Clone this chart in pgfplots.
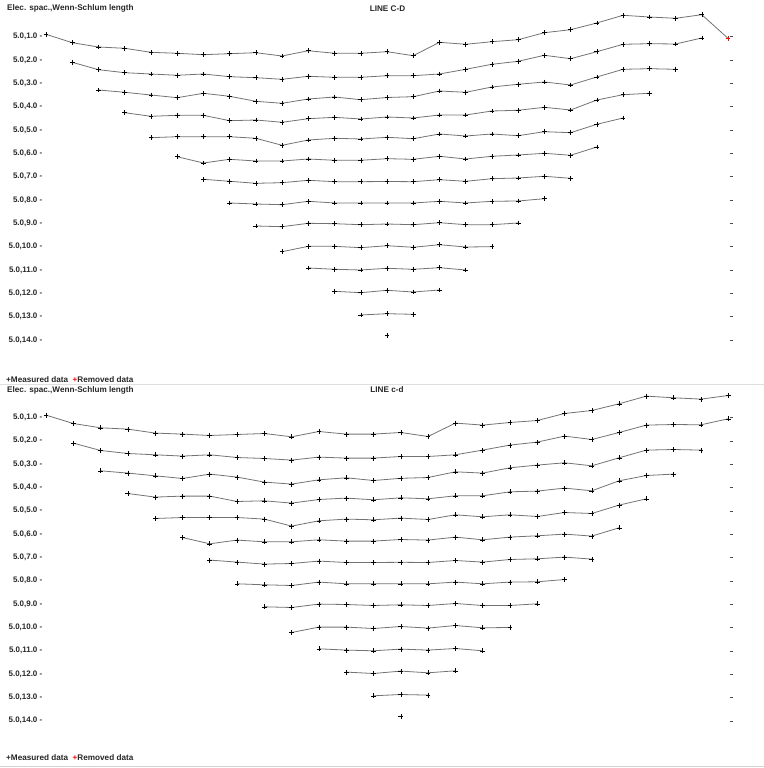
\documentclass[border=0pt]{standalone}
\usepackage{fontspec}
\setmainfont{Liberation Sans}
\usepackage{pgfplots}
\pgfplotsset{compat=1.18}

\pgfplotsset{
  row/.style={black!55, line width=0.8bp, mark=+, mark size=2.4bp,
    mark options={black, line width=0.5bp, solid}},
  pseudo/.style={
    scale only axis, width=687bp, height=330bp,
    y dir=reverse, ymin=20, ymax=350,
    axis line style={draw=none},
    xtick=\empty,
    ytick={36.7,60.03,83.37,106.7,130.03,153.37,176.7,200.03,223.37,246.7,270.03,293.37,316.7,340.03},
    yticklabels={{5.0,1.0 -},{5.0,2.0 -},{5.0,3.0 -},{5.0,4.0 -},{5.0,5.0 -},{5.0,6.0 -},{5.0,7.0 -},{5.0,8.0 -},{5.0,9.0 -},{5.0,10.0 -},{5.0,11.0 -},{5.0,12.0 -},{5.0,13.0 -},{5.0,14.0 -}},
    ytick pos=right, yticklabel pos=left,
    tick align=center, major tick length=3bp,
    ytick style={black!70, line width=0.6bp},
    yticklabel style={font=\fontsize{8}{9}\selectfont\bfseries, text=black!85, inner sep=0pt, anchor=east},
    clip=false,
  }
}

% rows 2..14 (x = electrode index, y = pixel position of the profile)
\newcommand{\rows}{%
\addplot[row] coordinates {(1,62.3)(2,69.7)(3,72.7)(4,74)(5,75.3)(6,74)(7,76.7)(8,77.7)(9,79.3)(10,76.3)(11,77.3)(12,77.3)(13,75.7)(14,75.7)(15,74)(16,69.3)(17,64.3)(18,61.3)(19,55.3)(20,58.7)(21,51.7)(22,44.3)(23,43.7)(24,44)(25,38)};
\addplot[row] coordinates {(2,90)(3,92.3)(4,95)(5,97.7)(6,93.3)(7,96.3)(8,101.3)(9,103.3)(10,99)(11,97)(12,99.7)(13,97.5)(14,96.7)(15,91)(16,92.3)(17,87)(18,84.3)(19,82)(20,85)(21,77)(22,69.3)(23,68.7)(24,69.3)};
\addplot[row] coordinates {(3,112.7)(4,116.3)(5,115.3)(6,115.3)(7,120.7)(8,120)(9,122.3)(10,118.7)(11,117.3)(12,119)(13,117)(14,118)(15,115)(16,115)(17,111)(18,110.3)(19,107.3)(20,110)(21,100)(22,94.7)(23,93.3)};
\addplot[row] coordinates {(4,137.7)(5,136.7)(6,136.7)(7,136.7)(8,138.3)(9,145.3)(10,140)(11,138.3)(12,139)(13,137.3)(14,138.7)(15,134)(16,136)(17,134)(18,135.7)(19,131.7)(20,132.7)(21,124.3)(22,118)};
\addplot[row] coordinates {(5,156.7)(6,163)(7,159.3)(8,161)(9,161)(10,159)(11,160.3)(12,160.3)(13,158.7)(14,159.3)(15,156.3)(16,159)(17,156.3)(18,155)(19,153.3)(20,155.3)(21,147)};
\addplot[row] coordinates {(6,179.3)(7,181.3)(8,183.3)(9,182.7)(10,180.3)(11,181.7)(12,181.7)(13,181.5)(14,181.7)(15,179.7)(16,181.3)(17,178.7)(18,178)(19,176.3)(20,178.3)};
\addplot[row] coordinates {(7,203)(8,204)(9,204.7)(10,201.3)(11,203)(12,203)(13,203)(14,203)(15,201.3)(16,203)(17,201.3)(18,201)(19,198.7)};
\addplot[row] coordinates {(8,226)(9,226.7)(10,223.3)(11,223.7)(12,224.7)(13,224)(14,224.7)(15,222.7)(16,224.7)(17,224.7)(18,223)};
\addplot[row] coordinates {(9,251.7)(10,246.3)(11,246.3)(12,247.7)(13,245.7)(14,247.3)(15,244.7)(16,247)(17,246.7)};
\addplot[row] coordinates {(10,268)(11,269.3)(12,270)(13,268.3)(14,269.3)(15,267.7)(16,270)};
\addplot[row] coordinates {(11,291.3)(12,292.7)(13,290.3)(14,292)(15,290)};
\addplot[row] coordinates {(12,315)(13,313.7)(14,314.3)};
\addplot[row] coordinates {(13,335.3)};
}

\begin{document}
\begin{tikzpicture}
\useasboundingbox (0bp,0bp) rectangle (764bp,768bp);

% ---------- top panel ----------
\begin{axis}[pseudo, at={(44bp,748bp)}, anchor=north west, xmin=-0.076, xmax=26.115]
\addplot[row] coordinates {(0,34.3)(1,42.7)(2,47)(3,48.3)(4,52.3)(5,53.3)(6,54.7)(7,53.7)(8,52.7)(9,56)(10,50.7)(11,53.3)(12,53.3)(13,51.7)(14,55.7)(15,42.3)(16,44.3)(17,41.7)(18,39.7)(19,32.7)(20,29.7)(21,23)(22,15.3)(23,17)(24,18.3)(25,14.7)(26,38.3)};
\addplot[only marks, mark=+, mark size=2.4bp, mark options={red, line width=0.5bp}] coordinates {(26,38.3)};
\rows
\end{axis}

% ---------- bottom panel ----------
\begin{axis}[pseudo, at={(44bp,367.2bp)}, anchor=north west, xmin=-0.073, xmax=25.10]
\addplot[row] coordinates {(0,34.3)(1,42.7)(2,47)(3,48.3)(4,52.3)(5,53.3)(6,54.7)(7,53.7)(8,52.7)(9,56)(10,50.7)(11,53.3)(12,53.3)(13,51.7)(14,55.7)(15,42.3)(16,44.3)(17,41.7)(18,39.7)(19,32.7)(20,29.7)(21,23)(22,15.3)(23,17)(24,18.3)(25,14.7)};
\rows
\end{axis}

% ---------- texts ----------
\begin{scope}[every node/.style={font=\fontsize{8.2}{9}\selectfont\bfseries, text=black!85, inner sep=0pt}]
\node[anchor=west] at (7bp,759.3bp) {Elec. spac.,Wenn-Schlum length};
\node at (387.5bp,759.3bp) {LINE C-D};
\node[anchor=west] at (6bp,388bp) {+Measured data\ \ \textcolor{red}{+}Removed data};
\node[anchor=west] at (7bp,378bp) {Elec. spac.,Wenn-Schlum length};
\node at (387bp,378bp) {LINE c-d};
\node[anchor=west] at (6bp,10.5bp) {+Measured data\ \ \textcolor{red}{+}Removed data};
\end{scope}
\draw[gray!25, line width=0.8bp] (0bp,383.5bp) -- (764bp,383.5bp);
\draw[gray!35, line width=1bp] (0bp,1.5bp) -- (764bp,1.5bp);
\end{tikzpicture}
\end{document}
